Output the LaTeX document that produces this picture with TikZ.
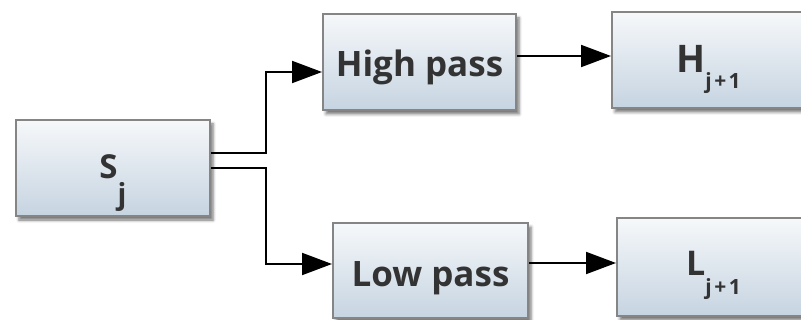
\documentclass[tikz,border=0pt]{standalone}
\usepackage{fontspec}
\setmainfont{Open Sans}
\usetikzlibrary{arrows.meta,shadows.blur}
\definecolor{txt}{HTML}{333333}
\definecolor{bord}{HTML}{858585}
\definecolor{topc}{HTML}{F6F8FA}
\definecolor{botc}{HTML}{C6D4E1}
\tikzset{
  blk/.style={draw=bord, line width=2pt, top color=topc, bottom color=botc,
    text=txt, font=\bfseries, inner sep=0pt, align=center,
    blur shadow={shadow xshift=3pt, shadow yshift=-4pt, shadow blur radius=3pt, shadow opacity=55}},
  conn/.style={line width=2pt, -{Triangle[length=30pt,width=22pt]}},
}
\newcommand{\fs}[1]{\fontsize{#1}{#1}\selectfont}
\newcommand{\opgap}{\hspace{2.5pt}}
\begin{document}
\begin{tikzpicture}[x=1pt,y=-1pt]
\path[use as bounding box] (0,0) rectangle (801,320);
\clip (0,0) rectangle (801,320);
\node[blk, minimum width=194pt, minimum height=96pt, text height=21pt, text depth=0pt] (S) at (113,168)
  {\fs{33}S\raisebox{-26pt}{\fs{29}j}};
\node[blk, minimum width=193pt, minimum height=96pt, text height=29.4pt, text depth=0pt] (HP) at (419.5,62)
  {\fs{35}High pass};
\node[blk, minimum width=193pt, minimum height=96pt, text height=25.4pt, text depth=0pt] (H) at (708.5,60)
  {\fs{38}H\raisebox{-15.6pt}{\fs{21}j\opgap+\opgap1}};
\node[blk, minimum width=195pt, minimum height=95pt, text height=32.4pt, text depth=0pt] (LP) at (430.5,270.5)
  {\fs{35}Low pass};
\node[blk, minimum width=193pt, minimum height=98pt, text height=18pt, text depth=0pt] (L) at (713.5,267)
  {\fs{34}L\raisebox{-19pt}{\fs{21}j\opgap+\opgap1}};
\coordinate (jn) at (266,168);
\draw[conn] ([yshift=15pt]S.east) -- ([yshift=15pt]S.east -| jn) |- ([yshift=-10pt]HP.west);
\draw[conn] (S.east) -- (S.east -| jn) |- ([yshift=6.5pt]LP.west);
\draw[conn] ([yshift=6pt]HP.east) -- ([yshift=6pt]HP.east -| H.west);
\draw[conn] ([yshift=7.5pt]LP.east) -- ([yshift=7.5pt]LP.east -| L.west);
\end{tikzpicture}
\end{document}
